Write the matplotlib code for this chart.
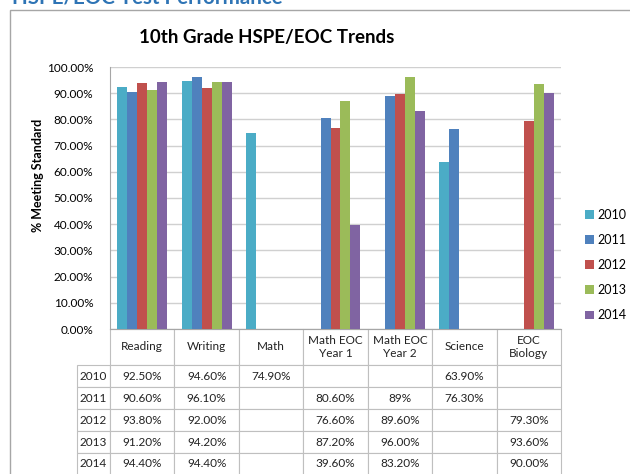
import numpy as np
import matplotlib
matplotlib.use("Agg")
import matplotlib.pyplot as plt
from matplotlib.patches import Rectangle

plt.rcParams['font.family'] = ['Lato', 'DejaVu Sans']

categories = ["Reading", "Writing", "Math", "Math EOC\nYear 1", "Math EOC\nYear 2", "Science", "EOC\nBiology"]
years = ["2010", "2011", "2012", "2013", "2014"]
nan = np.nan
v2010 = [92.5, 94.6, 74.9, nan, nan, 63.9, nan]
v2011 = [90.6, 96.1, nan, 80.6, 89.0, 76.3, nan]
v2012 = [93.8, 92.0, nan, 76.6, 89.6, nan, 79.3]
v2013 = [91.2, 94.2, nan, 87.2, 96.0, nan, 93.6]
v2014 = [94.4, 94.4, nan, 39.6, 83.2, nan, 90.0]
series = [v2010, v2011, v2012, v2013, v2014]
colors = ["#4BACC6", "#4F81BD", "#C0504D", "#9BBB59", "#8064A2"]
display_overrides = {(1, 4): "89%"}

W, H = 630, 474
AX_W, AX_H = 451, 262
fig = plt.figure(figsize=(W / 100, H / 100), dpi=100)

# outer frame and cut-off heading
fig.patches.append(Rectangle((10 / W, -0.05), 1.0, 1 - 10 / H + 0.05, transform=fig.transFigure,
                             fill=False, edgecolor="#A6A6A6", linewidth=1.0))
fig.text(12 / W, 1 - 3.5 / H, "HSPE/EOC Test Performance", color="#2E74B5", fontsize=14.8,
         fontweight="bold", va="baseline", ha="left")
fig.text(267 / W, 1 - 37 / H, "10th Grade HSPE/EOC Trends", fontsize=13.5, fontweight="bold",
         ha="center", va="center")

ax = fig.add_axes([110 / W, 1 - 329 / H, AX_W / W, AX_H / H])
x = np.arange(len(categories))
bw = 0.155
for i, (vals, c, y) in enumerate(zip(series, colors, years)):
    ax.bar(x + (i - 2) * bw, vals, width=bw, color=c, label=y, zorder=3)

ax.set_xlim(-0.5, len(categories) - 0.5)
ax.set_ylim(0, 100)
ax.set_yticks(np.arange(0, 101, 10))
ax.set_yticklabels([f"{t:.2f}%" for t in np.arange(0, 101, 10)], fontsize=8.5)
ax.set_xticks([])
ax.tick_params(axis="y", length=0, pad=12)
ax.grid(axis="y", color="#D0D0D0", linewidth=1.0, zorder=0)
for s in ["top", "right"]:
    ax.spines[s].set_visible(False)
for s in ["left", "bottom"]:
    ax.spines[s].set_color("#A6A6A6")
ax.set_ylabel("% Meeting Standard", fontsize=9, fontweight="bold")
ax.yaxis.set_label_coords(-66 / AX_W, (329 - 175) / AX_H)

# data table
cell_text = []
for r, vals in enumerate(series):
    row = []
    for c, v in enumerate(vals):
        if (r, c) in display_overrides:
            row.append(display_overrides[(r, c)])
        elif np.isnan(v):
            row.append("")
        else:
            row.append(f"{v:.2f}%")
    cell_text.append(row)

tbl = ax.table(cellText=cell_text, rowLabels=years, colLabels=categories,
               cellLoc="center", rowLoc="center", loc="bottom")
tbl.auto_set_font_size(False)
tbl.set_fontsize(8.5)
for (r, c), cell in tbl.get_celld().items():
    cell.set_height((36 if r == 0 else 22) / AX_H)
    cell.set_width(35 / AX_W if c == -1 else 1 / len(categories))
    cell.set_edgecolor("#BFBFBF")
    cell.set_linewidth(0.8)
    cell.get_text().set_color("#222222")

ax.legend(loc="center left", bbox_to_anchor=(574 / W, 1 - 265 / H), bbox_transform=fig.transFigure,
          frameon=False, fontsize=9, handlelength=0.7, handleheight=0.7, handletextpad=0.3,
          labelspacing=1.05)

fig.savefig("out.png", dpi=100)
